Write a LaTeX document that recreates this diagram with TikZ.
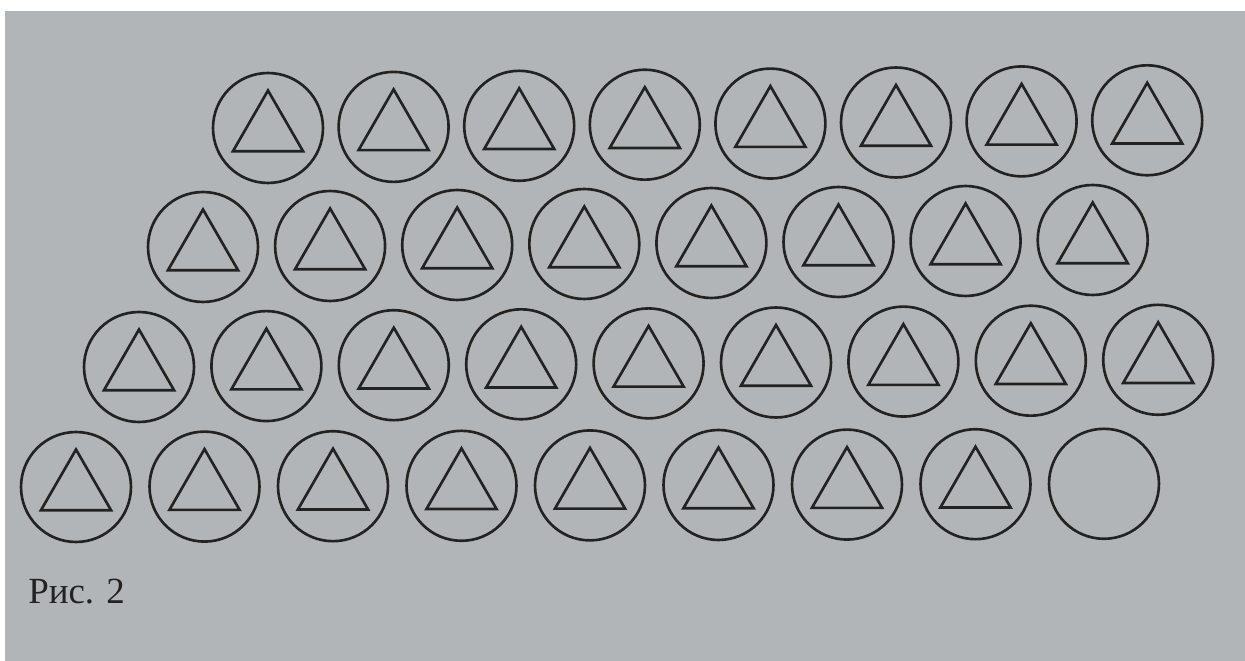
\documentclass[tikz,border=0pt]{standalone}
\usepackage{fontspec}
\setmainfont{Liberation Serif}
\usetikzlibrary{shapes.geometric}
\definecolor{paper}{HTML}{B2B5B7}
\definecolor{ink}{HTML}{222222}

\begin{document}
\begin{tikzpicture}[x=0.02cm,y=-0.02cm,
  ring/.style={draw=ink,circle,line width=1.5pt,inner sep=0pt,minimum size=2.2cm},
  tri/.style={draw=ink,regular polygon,regular polygon sides=3,line width=1.5pt,inner sep=0pt,minimum size=1.62cm}]
\useasboundingbox (0,0) rectangle (1245,661);
\fill[paper] (0,0) rectangle (1245,661);
\fill[white] (0,0) rectangle (1245,11);
\fill[white] (0,0) rectangle (5,661);
% rows of rings: row / first x / first y / step / tilt / rings / triangles
\foreach \r/\xo/\yo/\dx/\dy/\n/\t in {1/268/128/125.6/-1.1/8/8,
                                      2/203/247/127.1/-1/8/8,
                                      3/139/367/127.4/-0.9/9/9,
                                      4/76/487/128.5/-0.4/9/8}{
  \foreach \i in {1,...,\n}
    \node[ring] (c\r-\i) at ({\xo+(\i-1)*\dx},{\yo+(\i-1)*\dy}) {};
  \foreach \i in {1,...,\t}
    \node[tri,yshift=-0.06cm] (t\r-\i) at (c\r-\i) {};   % last ring of row 4 stays empty
}
\node[anchor=base west,inner sep=0pt,text=ink,font=\fontsize{21}{25}\selectfont] (cap) at (28,604) {Рис. 2};
\end{tikzpicture}
\end{document}
